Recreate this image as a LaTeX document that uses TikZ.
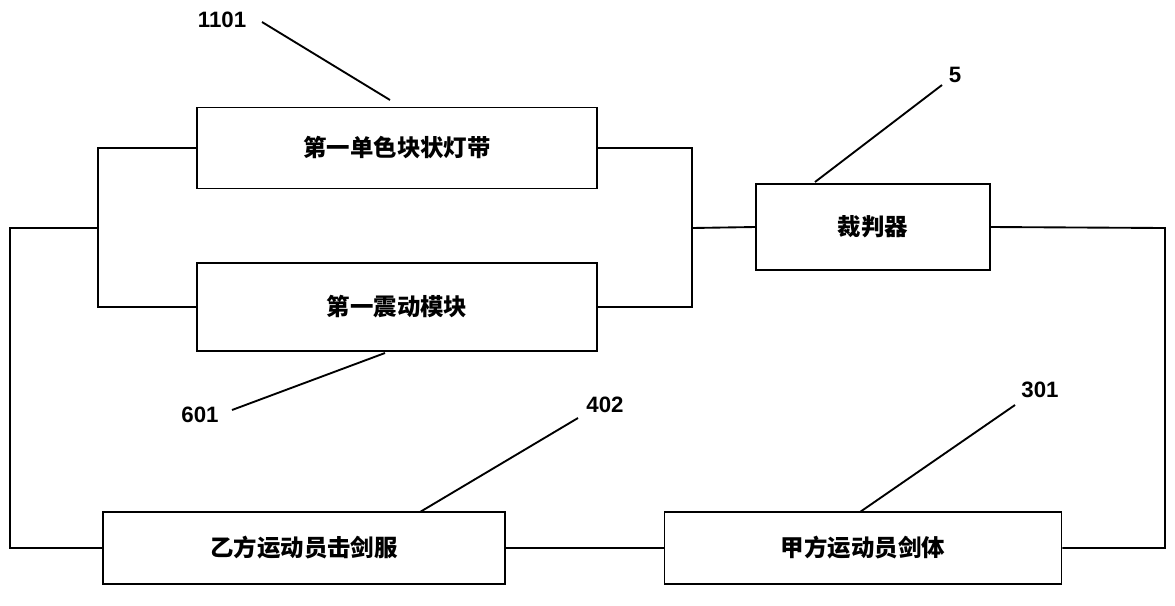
\documentclass[tikz,border=0pt]{standalone}
\usepackage{fontspec}
\newfontfamily\cjk{Noto Sans CJK SC}
\setmainfont{Liberation Sans}
\begin{document}
\begin{tikzpicture}[x=0.03cm,y=-0.03cm,line width=1.6pt,
 box/.style={draw,rectangle,minimum width=#1,font=\cjk\bfseries\fontsize{20}{20}\selectfont},
 lbl/.style={font=\bfseries\fontsize{19}{19}\selectfont}]
\useasboundingbox (0,0) rectangle (1175,605);
\node[box,minimum width=12cm,minimum height=2.43cm] (b1) at (397,148) {第一单色块状灯带};
\node[box,minimum width=12cm,minimum height=2.64cm] (b2) at (397,307) {第一震动模块};
\node[box,minimum width=7cm,minimum height=2.58cm] (j) at (873,227) {裁判器};
\node[box,minimum width=12.06cm,minimum height=2.16cm] (pb) at (304,548) {乙方运动员击剑服};
\node[box,minimum width=11.91cm,minimum height=2.16cm] (pa) at (863,548) {甲方运动员剑体};
\coordinate (l1) at (98,148); \coordinate (l2) at (98,307); \coordinate (lm) at (98,228);
\coordinate (r1) at (692,148); \coordinate (r2) at (692,307); \coordinate (rm) at (692,228);
\coordinate (o1) at (10,228); \coordinate (o2) at (10,548);
\coordinate (e1) at (1165,548); \coordinate (e2) at (1165,228);
\draw (b1.west) -- (l1) -- (l2) -- (b2.west);
\draw (b1.east) -- (r1) -- (r2) -- (b2.east);
\draw (rm) -- (j.west);
\draw (lm) -- (o1) -- (o2) -- (pb.west);
\draw (pb.east) -- (pa.west);
\draw (pa.east) -- (e1) -- (e2) -- (j.east);
\node[lbl] (n1101) at (222,20) {1101};
\node[lbl] (n5) at (955,75) {5};
\node[lbl] (n601) at (200,415) {601};
\node[lbl] (n402) at (605,405) {402};
\node[lbl] (n301) at (1040,390) {301};
\coordinate (t1) at (390,100); \coordinate (t5) at (815,182); \coordinate (t601) at (385,353);
\coordinate (t402) at (420,512); \coordinate (t301) at (860,512);
\draw (262,22) -- (t1);
\draw (942,85) -- (t5);
\draw (232,410) -- (t601);
\draw (578,418) -- (t402);
\draw (1015,405) -- (t301);
\end{tikzpicture}
\end{document}
